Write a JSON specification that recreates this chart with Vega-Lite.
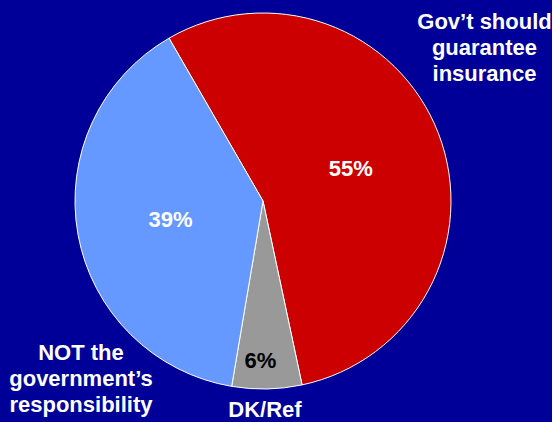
{
  "$schema": "https://vega.github.io/schema/vega-lite/v6.json",
  "width": 526,
  "height": 402,
  "padding": 0,
  "background": "#000099",
  "config": {"view": {"stroke": null}, "text": {"font": "Liberation Sans"}},
  "data": {
    "values": [
      {"rank": 1, "category": "Gov’t should guarantee insurance", "value": 55, "pct": "55%", "label": "Gov’t should\nguarantee\ninsurance"},
      {"rank": 2, "category": "DK/Ref", "value": 6, "pct": "6%", "label": "DK/Ref"},
      {"rank": 3, "category": "NOT the government’s responsibility", "value": 39, "pct": "39%", "label": "NOT the\ngovernment’s\nresponsibility"}
    ]
  },
  "encoding": {
    "theta": {"field": "value", "type": "quantitative", "stack": true, "scale": {"range": [-0.5236, 5.7596]}},
    "order": {"field": "rank", "type": "quantitative"},
    "detail": {"field": "category", "type": "nominal"}
  },
  "layer": [
    {
      "mark": {"type": "arc", "outerRadius": 188, "stroke": "white", "strokeWidth": 1},
      "encoding": {
        "color": {
          "field": "category", "type": "nominal", "legend": null,
          "scale": {
            "domain": ["Gov’t should guarantee insurance", "DK/Ref", "NOT the government’s responsibility"],
            "range": ["#CC0000", "#999999", "#6699FF"]
          }
        }
      }
    },
    {
      "mark": {"type": "text", "radius": 94, "dy": 2, "fontSize": 22, "fontWeight": "bold", "fill": "white", "align": "center", "baseline": "middle"},
      "encoding": {"text": {"condition": {"test": "datum.rank != 2", "field": "pct"}, "value": ""}}
    },
    {
      "mark": {"type": "text", "radius": 160, "dx": -6, "fontSize": 22, "fontWeight": "bold", "fill": "black", "align": "center", "baseline": "middle"},
      "encoding": {"text": {"condition": {"test": "datum.rank == 2", "field": "pct"}, "value": ""}}
    },
    {
      "mark": {"type": "text", "radius": 188, "dx": 46, "dy": -122, "fontSize": 22, "fontWeight": "bold", "fill": "white", "align": "center", "baseline": "top", "lineBreak": "\n", "lineHeight": 26},
      "encoding": {"text": {"condition": {"test": "datum.rank == 1", "field": "label"}, "value": ""}}
    },
    {
      "mark": {"type": "text", "radius": 188, "dx": -2, "dy": 11, "fontSize": 22, "fontWeight": "bold", "fill": "white", "align": "center", "baseline": "top", "lineBreak": "\n", "lineHeight": 26},
      "encoding": {"text": {"condition": {"test": "datum.rank == 2", "field": "label"}, "value": ""}}
    },
    {
      "mark": {"type": "text", "radius": 188, "dx": 3, "dy": 109, "fontSize": 22, "fontWeight": "bold", "fill": "white", "align": "center", "baseline": "top", "lineBreak": "\n", "lineHeight": 26},
      "encoding": {"text": {"condition": {"test": "datum.rank == 3", "field": "label"}, "value": ""}}
    }
  ]
}
